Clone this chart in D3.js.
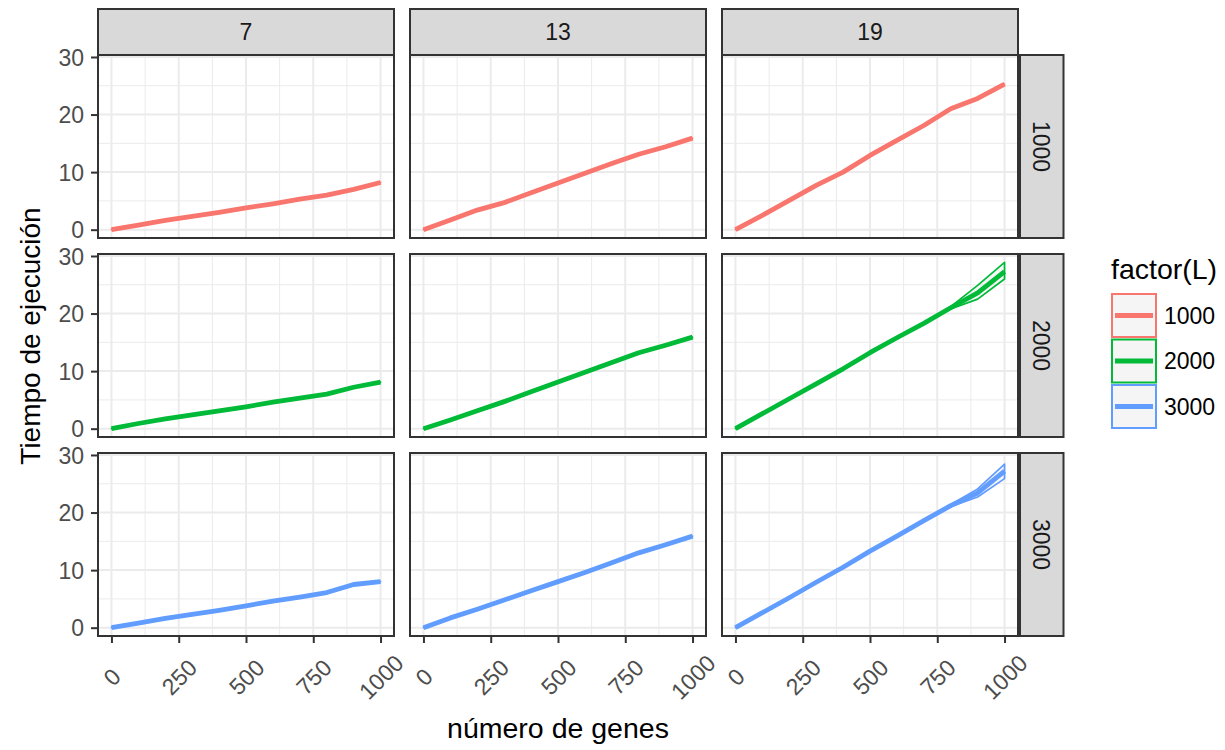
<!DOCTYPE html>
<html>
<head>
<meta charset="utf-8">
<script src="https://cdn.jsdelivr.net/npm/d3@7"></script>
<style>
  html, body { margin: 0; padding: 0; background: #ffffff; }
  svg { display: block; font-family: "Liberation Sans", Arial, Helvetica, sans-serif; }
</style>
</head>
<body>
<svg id="chart" width="1225" height="750"></svg>
<script>
// ---- data ---------------------------------------------------------------
const genes = [0, 100, 200, 300, 400, 500, 600, 700, 800, 900, 1000];
const windowSizes = ["7", "13", "19"];          // column facets
const levelsL = ["1000", "2000", "3000"];       // row facets / colour
const colours = ["#F8766D", "#00BA38", "#619CFF"];
const xTicks = [0, 250, 500, 750, 1000];
const yTicks = [0, 10, 20, 30];

// mean execution time per panel
const t_w7_L1000  = [0, 0.8, 1.6, 2.3, 3.0, 3.8, 4.5, 5.3, 6.0, 7.0, 8.2];
const t_w7_L2000  = [0, 0.9, 1.7, 2.4, 3.1, 3.8, 4.6, 5.3, 6.0, 7.2, 8.1];
const t_w7_L3000  = [0, 0.8, 1.6, 2.3, 3.0, 3.8, 4.6, 5.3, 6.1, 7.5, 8.0];
const t_w13_L1000 = [0, 1.7, 3.4, 4.7, 6.4, 8.1, 9.8, 11.5, 13.1, 14.4, 15.9];
const t_w13_L2000 = [0, 1.5, 3.1, 4.7, 6.4, 8.1, 9.8, 11.5, 13.2, 14.5, 15.9];
const t_w13_L3000 = [0, 1.7, 3.2, 4.8, 6.4, 8.0, 9.6, 11.3, 13.0, 14.4, 15.9];
const t_w19_L1000 = [0, 2.5, 5.1, 7.7, 10.0, 12.9, 15.5, 18.1, 21.0, 22.8, 25.3];
const t_w19_L2000 = [0, 2.6, 5.2, 7.8, 10.4, 13.2, 15.8, 18.3, 21.0, 23.6, 27.3];
const t_w19_L3000 = [0, 2.6, 5.2, 7.9, 10.5, 13.3, 15.9, 18.6, 21.2, 23.4, 27.2];

// min / max band where the runs spread apart
const lo_w19_L2000 = [0, 2.6, 5.2, 7.8, 10.4, 13.2, 15.8, 18.3, 20.8, 22.5, 26.0];
const hi_w19_L2000 = [0, 2.6, 5.2, 7.8, 10.4, 13.2, 15.8, 18.3, 21.2, 24.9, 28.9];
const lo_w19_L3000 = [0, 2.6, 5.2, 7.9, 10.5, 13.3, 15.9, 18.6, 21.0, 22.7, 25.9];
const hi_w19_L3000 = [0, 2.6, 5.2, 7.9, 10.5, 13.3, 15.9, 18.6, 21.4, 24.1, 28.4];

const meanSeries = [
  [t_w7_L1000, t_w13_L1000, t_w19_L1000],
  [t_w7_L2000, t_w13_L2000, t_w19_L2000],
  [t_w7_L3000, t_w13_L3000, t_w19_L3000]
];
const bandSeries = {
  "2-2": [lo_w19_L2000, hi_w19_L2000],
  "3-2": [lo_w19_L3000, hi_w19_L3000]
};

// ---- layout ---------------------------------------------------------------
const colLeft = [98, 410, 722];
const rowTop = [55, 254, 453];
const panelW = 296, panelH = 183;
const stripH = 46, stripW = 43.5, stripGap = 2;
const tickFont = 23;

const svg = d3.select("#chart");

const allVals = meanSeries.flat(2).concat(Object.values(bandSeries).flat(2));
const yMax = d3.max(allVals), yMin = 0;
const yPad = (yMax - yMin) * 0.05;
const xPad = (1000 - 0) * 0.05;

const darkLine = "#333333";

windowSizes.forEach((w, c) => {
  // top strip
  svg.append("rect")
    .attr("x", colLeft[c]).attr("y", rowTop[0] - stripH)
    .attr("width", panelW).attr("height", stripH)
    .attr("fill", "#D9D9D9").attr("stroke", darkLine).attr("stroke-width", 2);
  svg.append("text")
    .attr("x", colLeft[c] + panelW / 2).attr("y", rowTop[0] - stripH / 2)
    .attr("dy", "0.36em").attr("text-anchor", "middle")
    .attr("font-size", tickFont).attr("fill", "#1A1A1A").text(w);
});

levelsL.forEach((lv, r) => {
  const x0 = colLeft[2] + panelW + stripGap;
  svg.append("rect")
    .attr("x", x0).attr("y", rowTop[r])
    .attr("width", stripW).attr("height", panelH)
    .attr("fill", "#D9D9D9").attr("stroke", darkLine).attr("stroke-width", 2);
  svg.append("text")
    .attr("transform", `translate(${x0 + stripW / 2},${rowTop[r] + panelH / 2}) rotate(90)`)
    .attr("dy", "0.36em").attr("text-anchor", "middle")
    .attr("font-size", tickFont).attr("fill", "#1A1A1A").text(lv);
});

for (let r = 0; r < 3; r++) {
  for (let c = 0; c < 3; c++) {
    const left = colLeft[c], top = rowTop[r];
    const x = d3.scaleLinear().domain([0 - xPad, 1000 + xPad]).range([left, left + panelW]);
    const y = d3.scaleLinear().domain([yMin - yPad, yMax + yPad]).range([top + panelH, top]);
    const g = svg.append("g");

    g.append("rect").attr("x", left).attr("y", top)
      .attr("width", panelW).attr("height", panelH).attr("fill", "#ffffff");

    // minor grid
    const xMinor = [125, 375, 625, 875];
    const yMinor = [5, 15, 25];
    g.selectAll(".vminor").data(xMinor).join("line")
      .attr("x1", d => x(d)).attr("x2", d => x(d))
      .attr("y1", top).attr("y2", top + panelH)
      .attr("stroke", "#EBEBEB").attr("stroke-width", 1);
    g.selectAll(".hminor").data(yMinor).join("line")
      .attr("y1", d => y(d)).attr("y2", d => y(d))
      .attr("x1", left).attr("x2", left + panelW)
      .attr("stroke", "#EBEBEB").attr("stroke-width", 1);
    // major grid
    g.selectAll(".vmajor").data(xTicks).join("line")
      .attr("x1", d => x(d)).attr("x2", d => x(d))
      .attr("y1", top).attr("y2", top + panelH)
      .attr("stroke", "#EBEBEB").attr("stroke-width", 2);
    g.selectAll(".hmajor").data(yTicks).join("line")
      .attr("y1", d => y(d)).attr("y2", d => y(d))
      .attr("x1", left).attr("x2", left + panelW)
      .attr("stroke", "#EBEBEB").attr("stroke-width", 2);

    const col = colours[r];
    const mean = meanSeries[r][c];
    const band = bandSeries[`${r + 1}-${c}`] || [mean, mean];
    const rows = genes.map((gn, i) => ({ g: gn, m: mean[i], lo: band[0][i], hi: band[1][i] }));

    // min–max band
    g.append("path").datum(rows)
      .attr("d", d3.area().x(d => x(d.g)).y0(d => y(d.lo)).y1(d => y(d.hi)))
      .attr("fill", "#999999").attr("fill-opacity", 0.1)
      .attr("stroke", col).attr("stroke-width", 1.7).attr("stroke-linejoin", "round");

    // mean line
    g.append("path").datum(rows)
      .attr("d", d3.line().x(d => x(d.g)).y(d => y(d.m)))
      .attr("fill", "none").attr("stroke", col)
      .attr("stroke-width", 4.8).attr("stroke-linejoin", "round").attr("stroke-linecap", "butt");

    // panel border
    g.append("rect").attr("x", left).attr("y", top)
      .attr("width", panelW).attr("height", panelH)
      .attr("fill", "none").attr("stroke", darkLine).attr("stroke-width", 2);

    // y axis on the first column
    if (c === 0) {
      const ax = svg.append("g").attr("transform", `translate(${left},0)`)
        .call(d3.axisLeft(y).tickValues(yTicks).tickSize(7).tickPadding(7).tickFormat(d3.format("d")));
      ax.select(".domain").remove();
      ax.selectAll("line").attr("stroke", darkLine).attr("stroke-width", 2);
      ax.selectAll("text").attr("font-size", tickFont).attr("fill", "#4D4D4D")
        .attr("font-family", "'Liberation Sans', Arial, sans-serif").attr("dy", "0.36em");
    }
    // x axis on the last row
    if (r === 2) {
      const ax = svg.append("g").attr("transform", `translate(0,${top + panelH})`)
        .call(d3.axisBottom(x).tickValues(xTicks).tickSize(7).tickFormat(d3.format("d")));
      ax.select(".domain").remove();
      ax.selectAll("line").attr("stroke", darkLine).attr("stroke-width", 2);
      ax.selectAll("text").attr("font-size", tickFont).attr("fill", "#4D4D4D")
        .attr("font-family", "'Liberation Sans', Arial, sans-serif")
        .attr("y", null).attr("dy", "0.36em").attr("text-anchor", "middle")
        .attr("transform", "translate(0,41) rotate(-45)");
    }
  }
}

// axis titles
svg.append("text")
  .attr("x", (colLeft[0] + colLeft[2] + panelW) / 2).attr("y", 738)
  .attr("text-anchor", "middle").attr("font-size", 28.5).attr("fill", "#000000")
  .text("número de genes");
svg.append("text")
  .attr("transform", `translate(40,336) rotate(-90)`)
  .attr("text-anchor", "middle").attr("font-size", 28).attr("fill", "#000000")
  .text("Tiempo de ejecución");

// legend
const legend = svg.append("g").attr("transform", "translate(1111,0)");
legend.append("text").attr("x", 0).attr("y", 279)
  .attr("font-size", 28.5).attr("fill", "#000000").text("factor(L)");
levelsL.forEach((lv, i) => {
  const ky = 294 + i * 45.5;
  legend.append("rect").attr("x", 1).attr("y", ky).attr("width", 44).attr("height", 43)
    .attr("fill", "#999999").attr("fill-opacity", 0.1)
    .attr("stroke", colours[i]).attr("stroke-width", 2);
  legend.append("line").attr("x1", 4).attr("x2", 42)
    .attr("y1", ky + 21.5).attr("y2", ky + 21.5)
    .attr("stroke", colours[i]).attr("stroke-width", 5);
  legend.append("text").attr("x", 53).attr("y", ky + 21.5).attr("dy", "0.36em")
    .attr("font-size", tickFont).attr("fill", "#000000").text(lv);
});
</script>
</body>
</html>
